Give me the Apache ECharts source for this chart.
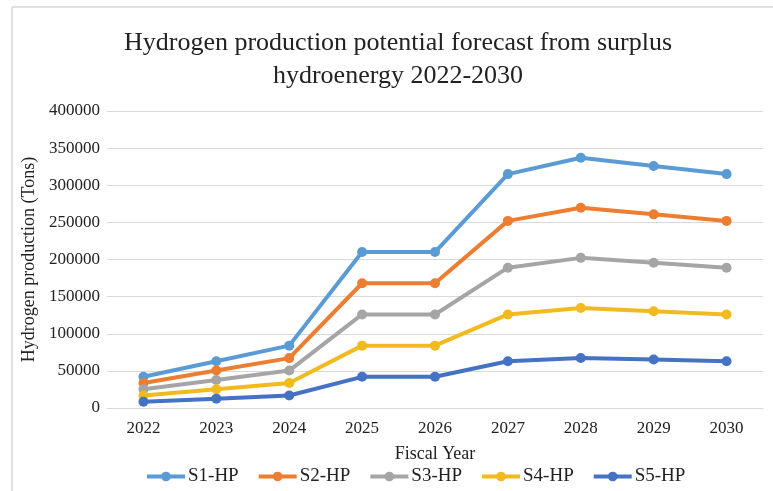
<!DOCTYPE html>
<html>
<head>
<meta charset="utf-8">
<script src="https://cdn.jsdelivr.net/npm/echarts@6/dist/echarts.min.js"></script>
<style>
  html, body { margin: 0; padding: 0; background: #fff; }
  #chart { width: 773px; height: 491px; }
</style>
</head>
<body>
<div id="chart"></div>
<script>
const years = ['2022', '2023', '2024', '2025', '2026', '2027', '2028', '2029', '2030']
const s1 = [42000, 63000, 84000, 210000, 210000, 315000, 337000, 326000, 315000]
const s2 = [33600, 50400, 67200, 168000, 168000, 252000, 269600, 260800, 252000]
const s3 = [25200, 37800, 50400, 126000, 126000, 189000, 202200, 195600, 189000]
const s4 = [16800, 25200, 33600, 84000, 84000, 126000, 134800, 130400, 126000]
const s5 = [8400, 12600, 16800, 42000, 42000, 63000, 67400, 65200, 63000]
const seriesNames = ['S1-HP', 'S2-HP', 'S3-HP', 'S4-HP', 'S5-HP']
const colors = ['#5B9BD5', '#ED7D31', '#A5A5A5', '#F2BA1E', '#4472C4']

const font = 'Liberation Serif'
const chart = echarts.init(document.getElementById('chart'))

const makeSeries = (name, data, color) => ({
  name,
  type: 'line',
  data,
  symbol: 'circle',
  symbolSize: 10,
  color,
  lineStyle: { width: 4, color },
  itemStyle: { color },
  animation: false
})

chart.setOption({
  textStyle: { fontFamily: font },
  // light frame along the top and left edge, as in the source image
  graphic: [
    { type: 'line', shape: { x1: 12, y1: 7, x2: 773, y2: 7 }, style: { stroke: '#d6d6d6', lineWidth: 1.5 } },
    { type: 'line', shape: { x1: 12, y1: 7, x2: 12, y2: 491 }, style: { stroke: '#d6d6d6', lineWidth: 1.5 } }
  ],
  title: {
    text: 'Hydrogen production potential forecast from surplus\nhydroenergy 2022-2030',
    left: 393,
    top: 22,
    textAlign: 'center',
    textStyle: { fontFamily: font, fontSize: 26, fontWeight: 'normal', color: '#222', lineHeight: 33 }
  },
  legend: {
    data: seriesNames,
    bottom: 0,
    left: 140,
    itemWidth: 38,
    itemHeight: 12,
    itemGap: 18,
    itemStyle: { borderWidth: 0 },
    lineStyle: { width: 4 },
    textStyle: { fontFamily: font, fontSize: 19, color: '#222', padding: [0, 0, 0, -2] }
  },
  grid: { left: 107, right: 10, top: 111, bottom: 83 },
  xAxis: {
    type: 'category',
    data: years,
    name: 'Fiscal Year',
    nameLocation: 'middle',
    nameGap: 37,
    nameTextStyle: { fontFamily: font, fontSize: 18, color: '#222' },
    axisLine: { lineStyle: { color: '#d9d9d9' } },
    axisTick: { show: false },
    axisLabel: { fontFamily: font, fontSize: 17, color: '#222', margin: 12 }
  },
  yAxis: {
    type: 'value',
    min: 0,
    max: 400000,
    interval: 50000,
    name: 'Hydrogen production (Tons)',
    nameLocation: 'middle',
    nameGap: 66,
    nameTextStyle: { fontFamily: font, fontSize: 18, color: '#222' },
    axisLine: { show: false },
    axisTick: { show: false },
    axisLabel: { fontFamily: font, fontSize: 17, color: '#222', margin: 7, formatter: v => String(v) },
    splitLine: { lineStyle: { color: '#d9d9d9' } }
  },
  series: [
    makeSeries(seriesNames[0], s1, colors[0]),
    makeSeries(seriesNames[1], s2, colors[1]),
    makeSeries(seriesNames[2], s3, colors[2]),
    makeSeries(seriesNames[3], s4, colors[3]),
    makeSeries(seriesNames[4], s5, colors[4])
  ]
})
</script>
</body>
</html>
